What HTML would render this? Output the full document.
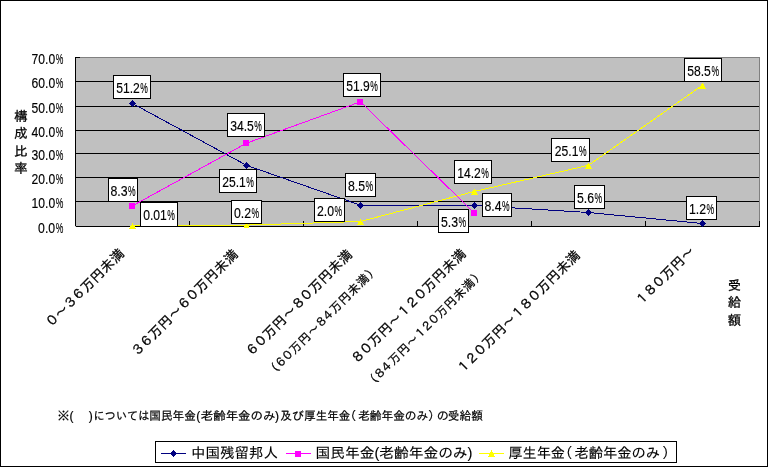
<!DOCTYPE html>
<html lang="ja"><head><meta charset="utf-8"><title>構成比率</title>
<style>html,body{margin:0;padding:0;background:#fff;overflow:hidden}svg{display:block}text{font-family:"Liberation Sans","IPAGothic","Noto Sans CJK JP",sans-serif;fill:#000}.n{font-size:14px;stroke:#000;stroke-width:.15px}.ax{font-size:13.33px;stroke:#000;stroke-width:.3px}.sm{font-size:12px;stroke:#000;stroke-width:.25px}.lg{font-size:14.4px;stroke:#000;stroke-width:.12px}.ft{font-size:12px;stroke:#000;stroke-width:.2px}</style></head><body>
<svg width="768" height="467" viewBox="0 0 768 467">
<rect x="0" y="0" width="768" height="467" fill="#fff"/>
<g shape-rendering="crispEdges">
<rect x="0.5" y="0.5" width="767" height="466" fill="none" stroke="#000"/>
<rect x="75" y="57" width="685" height="170" fill="#c0c0c0"/>
<path d="M75 57.5H760M759.5 57V227" stroke="#808080" fill="none"/>
<path d="M76 81.5H759M76 106.5H759M76 130.5H759M76 153.5H759M76 177.5H759M76 201.5H759" stroke="#000" fill="none"/>
<path d="M75.5 57V226M75 57.5H80M76 226.5H760" stroke="#000" fill="none"/>
<path d="M189.5 221V226M303.5 221V226M417.5 221V226M531.5 221V226M645.5 221V226M759.5 221V226" stroke="#000" fill="none"/>
<polyline points="132.5,103.5 246.5,165.3 360.5,205.2 474.5,205.5 588.5,212.5 702.5,223.5" fill="none" stroke="#000080" stroke-width="1"/>
<path d="M132.5 100.0L136.0 103.5L132.5 107.0L129.0 103.5Z" fill="#000080"/>
<path d="M246.5 161.8L250.0 165.3L246.5 168.8L243.0 165.3Z" fill="#000080"/>
<path d="M360.5 201.8L364.0 205.2L360.5 208.8L357.0 205.2Z" fill="#000080"/>
<path d="M474.5 202.0L478.0 205.5L474.5 209.0L471.0 205.5Z" fill="#000080"/>
<path d="M588.5 209.0L592.0 212.5L588.5 216.0L585.0 212.5Z" fill="#000080"/>
<path d="M702.5 220.0L706.0 223.5L702.5 227.0L699.0 223.5Z" fill="#000080"/>
<polyline points="132.5,205.8 246.5,143.2 360.5,101.8 474.5,213.2" fill="none" stroke="#ff00ff" stroke-width="1"/>
<rect x="129.0" y="203.0" width="6" height="6" fill="#ff00ff"/>
<rect x="243.0" y="140.0" width="6" height="6" fill="#ff00ff"/>
<rect x="357.0" y="99.0" width="6" height="6" fill="#ff00ff"/>
<rect x="471.0" y="210.0" width="6" height="6" fill="#ff00ff"/>
<polyline points="132.5,225.6 246.5,225.1 360.5,221.5 474.5,191.4 588.5,165.3 702.5,85.2" fill="none" stroke="#ffff00" stroke-width="1"/>
<path d="M132.5 222.9L135.9 228.9L129.1 228.9Z" fill="#ffff00"/>
<path d="M246.5 222.4L249.9 228.4L243.1 228.4Z" fill="#ffff00"/>
<path d="M360.5 218.8L363.9 224.8L357.1 224.8Z" fill="#ffff00"/>
<path d="M474.5 188.7L477.9 194.7L471.1 194.7Z" fill="#ffff00"/>
<path d="M588.5 162.6L591.9 168.6L585.1 168.6Z" fill="#ffff00"/>
<path d="M702.5 82.5L705.9 88.5L699.1 88.5Z" fill="#ffff00"/>
</g>
<g shape-rendering="crispEdges">
<rect x="113.5" y="75.5" width="37" height="23" fill="#fff" stroke="#000"/>
<rect x="108.5" y="178.5" width="29" height="23" fill="#fff" stroke="#000"/>
<rect x="140.5" y="202.5" width="37" height="24" fill="#fff" stroke="#000"/>
<rect x="227.5" y="113.5" width="37" height="23" fill="#fff" stroke="#000"/>
<rect x="219.5" y="169.5" width="37" height="23" fill="#fff" stroke="#000"/>
<rect x="231.5" y="200.5" width="30" height="23" fill="#fff" stroke="#000"/>
<rect x="343.5" y="73.5" width="37" height="23" fill="#fff" stroke="#000"/>
<rect x="345.5" y="173.5" width="30" height="23" fill="#fff" stroke="#000"/>
<rect x="314.5" y="198.5" width="30" height="23" fill="#fff" stroke="#000"/>
<rect x="454.5" y="160.5" width="37" height="23" fill="#fff" stroke="#000"/>
<rect x="438.5" y="209.5" width="30" height="23" fill="#fff" stroke="#000"/>
<rect x="482.5" y="193.5" width="29" height="23" fill="#fff" stroke="#000"/>
<rect x="551.5" y="138.5" width="38" height="23" fill="#fff" stroke="#000"/>
<rect x="574.5" y="185.5" width="30" height="23" fill="#fff" stroke="#000"/>
<rect x="684.5" y="58.5" width="37" height="23" fill="#fff" stroke="#000"/>
<rect x="686.5" y="196.5" width="30" height="23" fill="#fff" stroke="#000"/>
</g>
<text class="n" y="92.8"><tspan x="116.2" textLength="23.6" lengthAdjust="spacingAndGlyphs">51.2</tspan><tspan x="140.3" textLength="7.6" lengthAdjust="spacingAndGlyphs">%</tspan></text>
<text class="n" y="195.8"><tspan x="110.5" textLength="17.1" lengthAdjust="spacingAndGlyphs">8.3</tspan><tspan x="128.1" textLength="7.6" lengthAdjust="spacingAndGlyphs">%</tspan></text>
<text class="n" y="219.8"><tspan x="143.2" textLength="23.6" lengthAdjust="spacingAndGlyphs">0.01</tspan><tspan x="167.3" textLength="7.6" lengthAdjust="spacingAndGlyphs">%</tspan></text>
<text class="n" y="130.8"><tspan x="230.2" textLength="23.6" lengthAdjust="spacingAndGlyphs">34.5</tspan><tspan x="254.3" textLength="7.6" lengthAdjust="spacingAndGlyphs">%</tspan></text>
<text class="n" y="186.8"><tspan x="222.2" textLength="23.6" lengthAdjust="spacingAndGlyphs">25.1</tspan><tspan x="246.3" textLength="7.6" lengthAdjust="spacingAndGlyphs">%</tspan></text>
<text class="n" y="217.8"><tspan x="234.0" textLength="17.1" lengthAdjust="spacingAndGlyphs">0.2</tspan><tspan x="251.6" textLength="7.6" lengthAdjust="spacingAndGlyphs">%</tspan></text>
<text class="n" y="90.8"><tspan x="346.2" textLength="23.6" lengthAdjust="spacingAndGlyphs">51.9</tspan><tspan x="370.3" textLength="7.6" lengthAdjust="spacingAndGlyphs">%</tspan></text>
<text class="n" y="190.8"><tspan x="348.0" textLength="17.1" lengthAdjust="spacingAndGlyphs">8.5</tspan><tspan x="365.6" textLength="7.6" lengthAdjust="spacingAndGlyphs">%</tspan></text>
<text class="n" y="215.8"><tspan x="317.0" textLength="17.1" lengthAdjust="spacingAndGlyphs">2.0</tspan><tspan x="334.6" textLength="7.6" lengthAdjust="spacingAndGlyphs">%</tspan></text>
<text class="n" y="177.8"><tspan x="457.2" textLength="23.6" lengthAdjust="spacingAndGlyphs">14.2</tspan><tspan x="481.3" textLength="7.6" lengthAdjust="spacingAndGlyphs">%</tspan></text>
<text class="n" y="226.8"><tspan x="441.0" textLength="17.1" lengthAdjust="spacingAndGlyphs">5.3</tspan><tspan x="458.6" textLength="7.6" lengthAdjust="spacingAndGlyphs">%</tspan></text>
<text class="n" y="210.8"><tspan x="484.5" textLength="17.1" lengthAdjust="spacingAndGlyphs">8.4</tspan><tspan x="502.1" textLength="7.6" lengthAdjust="spacingAndGlyphs">%</tspan></text>
<text class="n" y="155.8"><tspan x="554.8" textLength="23.6" lengthAdjust="spacingAndGlyphs">25.1</tspan><tspan x="578.9" textLength="7.6" lengthAdjust="spacingAndGlyphs">%</tspan></text>
<text class="n" y="202.8"><tspan x="577.0" textLength="17.1" lengthAdjust="spacingAndGlyphs">5.6</tspan><tspan x="594.6" textLength="7.6" lengthAdjust="spacingAndGlyphs">%</tspan></text>
<text class="n" y="75.8"><tspan x="687.2" textLength="23.6" lengthAdjust="spacingAndGlyphs">58.5</tspan><tspan x="711.4" textLength="7.6" lengthAdjust="spacingAndGlyphs">%</tspan></text>
<text class="n" y="213.8"><tspan x="689.0" textLength="17.1" lengthAdjust="spacingAndGlyphs">1.2</tspan><tspan x="706.6" textLength="7.6" lengthAdjust="spacingAndGlyphs">%</tspan></text>
<text class="n" y="63.8"><tspan x="31.6" textLength="23.6" lengthAdjust="spacingAndGlyphs">70.0</tspan><tspan x="55.7" textLength="7.6" lengthAdjust="spacingAndGlyphs">%</tspan></text>
<text class="n" y="87.8"><tspan x="31.6" textLength="23.6" lengthAdjust="spacingAndGlyphs">60.0</tspan><tspan x="55.7" textLength="7.6" lengthAdjust="spacingAndGlyphs">%</tspan></text>
<text class="n" y="112.8"><tspan x="31.6" textLength="23.6" lengthAdjust="spacingAndGlyphs">50.0</tspan><tspan x="55.7" textLength="7.6" lengthAdjust="spacingAndGlyphs">%</tspan></text>
<text class="n" y="136.8"><tspan x="31.6" textLength="23.6" lengthAdjust="spacingAndGlyphs">40.0</tspan><tspan x="55.7" textLength="7.6" lengthAdjust="spacingAndGlyphs">%</tspan></text>
<text class="n" y="159.8"><tspan x="31.6" textLength="23.6" lengthAdjust="spacingAndGlyphs">30.0</tspan><tspan x="55.7" textLength="7.6" lengthAdjust="spacingAndGlyphs">%</tspan></text>
<text class="n" y="183.8"><tspan x="31.6" textLength="23.6" lengthAdjust="spacingAndGlyphs">20.0</tspan><tspan x="55.7" textLength="7.6" lengthAdjust="spacingAndGlyphs">%</tspan></text>
<text class="n" y="207.8"><tspan x="31.6" textLength="23.6" lengthAdjust="spacingAndGlyphs">10.0</tspan><tspan x="55.7" textLength="7.6" lengthAdjust="spacingAndGlyphs">%</tspan></text>
<text class="n" y="232.8"><tspan x="38.1" textLength="17.1" lengthAdjust="spacingAndGlyphs">0.0</tspan><tspan x="55.7" textLength="7.6" lengthAdjust="spacingAndGlyphs">%</tspan></text>
<text class="ax" x="21" y="120.5" text-anchor="middle">構</text>
<text class="ax" x="21" y="138.1" text-anchor="middle">成</text>
<text class="ax" x="21" y="155.7" text-anchor="middle">比</text>
<text class="ax" x="21" y="173.3" text-anchor="middle">率</text>
<text class="ax" x="734.3" y="290.2" text-anchor="middle">受</text>
<text class="ax" x="734.3" y="307.4" text-anchor="middle">給</text>
<text class="ax" x="734.3" y="324.6" text-anchor="middle">額</text>
<text class="ax" transform="translate(122.7 249.8) rotate(-45)" text-anchor="end" y="4.9"><tspan font-size="13.30" letter-spacing="-1.70" dx="-0.85">０</tspan><tspan letter-spacing="0.60" dx="0.85">〜</tspan><tspan font-size="13.30" letter-spacing="-1.70" dx="-0.85">３６</tspan><tspan letter-spacing="0.60" dx="0.85">万円未満</tspan></text>
<text class="ax" transform="translate(236.5 250.7) rotate(-45)" text-anchor="end" y="4.9"><tspan font-size="13.30" letter-spacing="-1.70" dx="-0.85">３６</tspan><tspan letter-spacing="0.60" dx="0.85">万円〜</tspan><tspan font-size="13.30" letter-spacing="-1.70" dx="-0.85">６０</tspan><tspan letter-spacing="0.60" dx="0.85">万円未満</tspan></text>
<text class="ax" transform="translate(350.7 250.8) rotate(-45)" text-anchor="end" y="4.9"><tspan font-size="13.30" letter-spacing="-1.70" dx="-0.85">６０</tspan><tspan letter-spacing="0.60" dx="0.85">万円〜</tspan><tspan font-size="13.30" letter-spacing="-1.70" dx="-0.85">８０</tspan><tspan letter-spacing="0.60" dx="0.85">万円未満</tspan></text>
<text class="sm" transform="translate(376.7 266.9) rotate(-45)" text-anchor="end" y="3.9"><tspan letter-spacing="0.70">（</tspan><tspan font-size="12.00" letter-spacing="-2.50" dx="-1.25">６０</tspan><tspan letter-spacing="0.70" dx="1.25">万円〜</tspan><tspan font-size="12.00" letter-spacing="-2.50" dx="-1.25">８４</tspan><tspan letter-spacing="0.70" dx="1.25">万円未満）</tspan></text>
<text class="ax" transform="translate(464.5 250.0) rotate(-45)" text-anchor="end" y="4.9"><tspan font-size="13.30" letter-spacing="-1.70" dx="-0.85">８０</tspan><tspan letter-spacing="0.60" dx="0.85">万円〜</tspan><tspan font-size="13.30" letter-spacing="-1.70" dx="-0.85">１２０</tspan><tspan letter-spacing="0.60" dx="0.85">万円未満</tspan></text>
<text class="sm" transform="translate(482.4 271.3) rotate(-45)" text-anchor="end" y="3.9"><tspan letter-spacing="0.70">（</tspan><tspan font-size="12.00" letter-spacing="-2.50" dx="-1.25">８４</tspan><tspan letter-spacing="0.70" dx="1.25">万円〜</tspan><tspan font-size="12.00" letter-spacing="-2.50" dx="-1.25">１２０</tspan><tspan letter-spacing="0.70" dx="1.25">万円未満）</tspan></text>
<text class="ax" transform="translate(578.5 251.5) rotate(-45)" text-anchor="end" y="4.9"><tspan font-size="13.30" letter-spacing="-1.70" dx="-0.85">１２０</tspan><tspan letter-spacing="0.60" dx="0.85">万円〜</tspan><tspan font-size="13.30" letter-spacing="-1.70" dx="-0.85">１８０</tspan><tspan letter-spacing="0.60" dx="0.85">万円未満</tspan></text>
<text class="ax" transform="translate(693.0 247.5) rotate(-45)" text-anchor="end" y="4.9"><tspan font-size="13.30" letter-spacing="-1.70" dx="-0.85">１８０</tspan><tspan letter-spacing="0.60" dx="0.85">万円〜</tspan></text>
<text class="ft" y="419.9"><tspan x="57.5">※</tspan><tspan x="69.5">(</tspan><tspan x="78.0">　</tspan><tspan x="88.7">)</tspan><tspan x="93.5" textLength="56.0" lengthAdjust="spacingAndGlyphs">については</tspan><tspan x="149.3" textLength="46.5" lengthAdjust="spacingAndGlyphs">国民年金</tspan><tspan x="196.3">(</tspan><tspan x="200.8" textLength="74.5" lengthAdjust="spacingAndGlyphs">老齢年金のみ</tspan><tspan x="274.9">)</tspan><tspan x="280.0" textLength="24.0" lengthAdjust="spacingAndGlyphs">及び</tspan><tspan x="304.2" textLength="46.0" lengthAdjust="spacingAndGlyphs">厚生年金</tspan><tspan x="344.2">（</tspan><tspan x="358.2" textLength="70.0" lengthAdjust="spacingAndGlyphs">老齢年金のみ</tspan><tspan x="428.0">）</tspan><tspan x="436.8">の</tspan><tspan x="447.8" textLength="35.0" lengthAdjust="spacingAndGlyphs">受給額</tspan></text>
<g shape-rendering="crispEdges">
<rect x="155.5" y="441.5" width="521" height="21" fill="#fff" stroke="#000"/>
<path d="M161 453.5H186" stroke="#000080"/>
<path d="M173.5 450L177 453.5L173.5 457L170 453.5Z" fill="#000080"/>
<path d="M286 453.5H311" stroke="#ff00ff"/>
<rect x="295" y="451" width="6" height="6" fill="#ff00ff"/>
<path d="M479 453.5H504" stroke="#ffff00"/>
<path d="M491.5 450L495 456.5L488 456.5Z" fill="#ffff00"/>
</g>
<text class="lg" x="191" y="457.7" textLength="87" lengthAdjust="spacingAndGlyphs">中国残留邦人</text>
<text class="lg" x="315.5" y="457.7" textLength="157" lengthAdjust="spacingAndGlyphs">国民年金(老齢年金のみ)</text>
<text class="lg" y="457.7"><tspan x="508.4" textLength="56.5" lengthAdjust="spacingAndGlyphs">厚生年金</tspan><tspan x="558.2">（</tspan><tspan x="574.6" textLength="85.5" lengthAdjust="spacingAndGlyphs">老齢年金のみ</tspan><tspan x="662.0">）</tspan></text>
</svg></body></html>
